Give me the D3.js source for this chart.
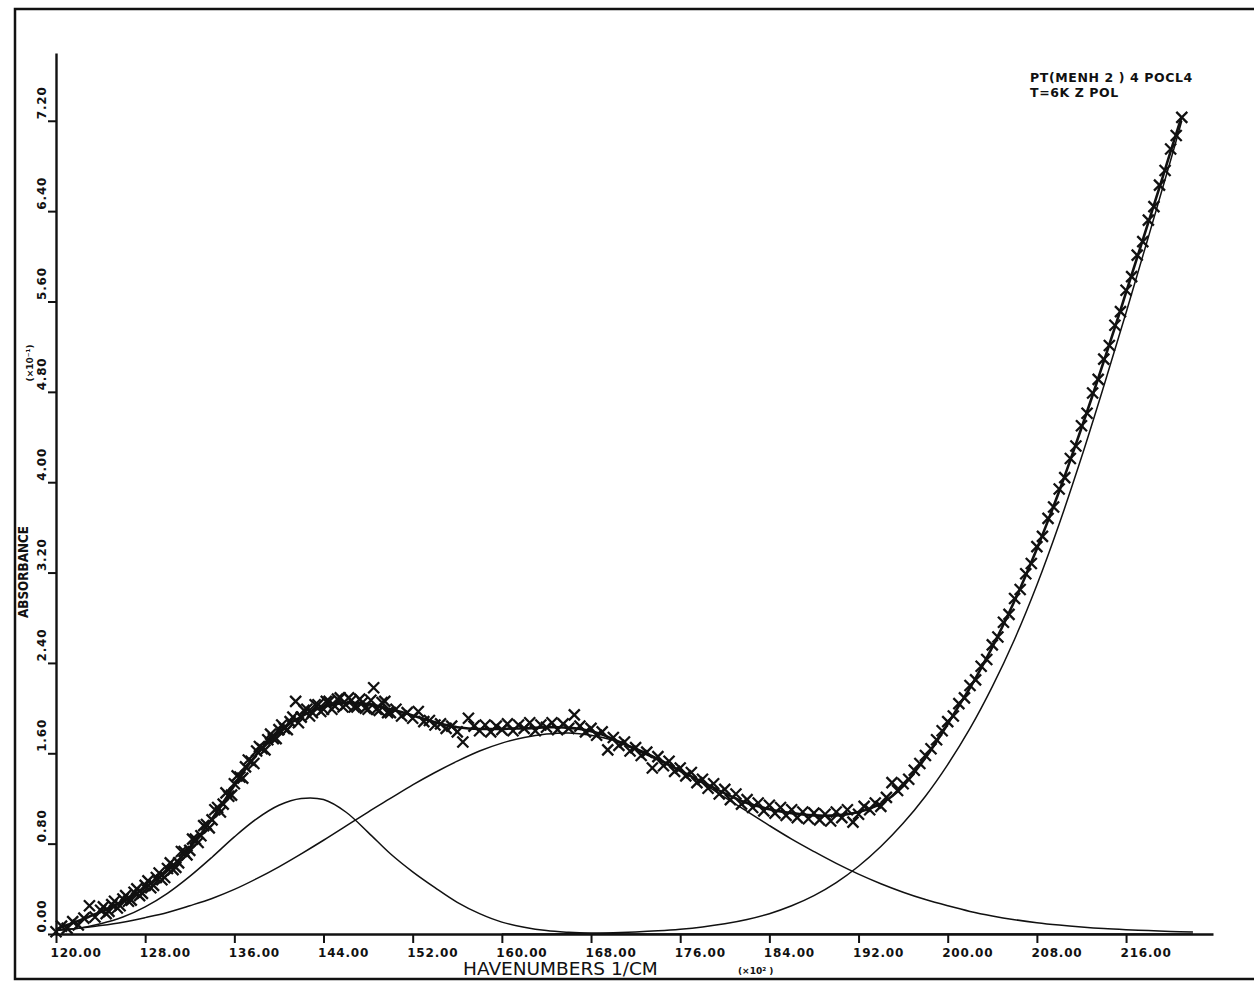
<!DOCTYPE html>
<html>
<head>
<meta charset="utf-8">
<script src="https://cdn.jsdelivr.net/npm/d3@7"></script>
<style>
  body { margin: 0; background: #fff; }
  svg { display: block; }
  text { fill: #111; }
</style>
</head>
<body>
<div id="my_dataviz"></div>
<script>
// axis ticks and their printed labels (absorbance in units of 10^-1, wavenumbers in 10^2 1/cm)
const xTicks = [120, 128, 136, 144, 152, 160, 168, 176, 184, 192, 200, 208, 216];
const xTickLabels = ["120.00", "128.00", "136.00", "144.00", "152.00", "160.00", "168.00",
                     "176.00", "184.00", "192.00", "200.00", "208.00", "216.00"];
const yTicks = [0, 0.8, 1.6, 2.4, 3.2, 4.0, 4.8, 5.6, 6.4, 7.2];
const yTickLabels = ["0.00", "0.80", "1.60", "2.40", "3.20", "4.00", "4.80", "5.60", "6.40", "7.20"];

// measured points (X markers)
const markerWavenumbers = [
  120, 120.5, 121, 121.5, 122, 122.5, 123, 123.5, 124, 124.5,
  125, 125.5, 126, 126.5, 127, 127.5, 128, 128.5, 129, 129.5,
  130, 130.5, 131, 131.5, 132, 132.5, 133, 133.5, 134, 134.5,
  135, 135.5, 136, 136.5, 137, 137.5, 138, 138.5, 139, 139.5,
  140, 140.5, 141, 141.5, 142, 142.5, 143, 143.5, 144, 144.5,
  145, 145.5, 146, 146.5, 147, 147.5, 148, 148.5, 149, 149.5,
  150, 150.5, 151, 151.5, 152, 152.5, 153, 153.5, 154, 154.5,
  155, 155.5, 156, 156.5, 157, 157.5, 158, 158.5, 159, 159.5,
  160, 160.5, 161, 161.5, 162, 162.5, 163, 163.5, 164, 164.5,
  165, 165.5, 166, 166.5, 167, 167.5, 168, 168.5, 169, 169.5,
  170, 170.5, 171, 171.5, 172, 172.5, 173, 173.5, 174, 174.5,
  175, 175.5, 176, 176.5, 177, 177.5, 178, 178.5, 179, 179.5,
  180, 180.5, 181, 181.5, 182, 182.5, 183, 183.5, 184, 184.5,
  185, 185.5, 186, 186.5, 187, 187.5, 188, 188.5, 189, 189.5,
  190, 190.5, 191, 191.5, 192, 192.5, 193, 193.5, 194, 194.5,
  195, 195.5, 196, 196.5, 197, 197.5, 198, 198.5, 199, 199.5,
  200, 200.5, 201, 201.5, 202, 202.5, 203, 203.5, 204, 204.5,
  205, 205.5, 206, 206.5, 207, 207.5, 208, 208.5, 209, 209.5,
  210, 210.5, 211, 211.5, 212, 212.5, 213, 213.5, 214, 214.5,
  215, 215.5, 216, 216.5, 217, 217.5, 218, 218.5, 219, 219.5,
  220, 220.5, 221
];
const markerAbsorbance = [
  0.02, 0.07, 0.05, 0.11, 0.08, 0.14, 0.25, 0.15, 0.21, 0.18,
  0.26, 0.23, 0.31, 0.29, 0.37, 0.34, 0.43, 0.41, 0.50, 0.48,
  0.58, 0.57, 0.63, 0.73, 0.74, 0.84, 0.87, 0.97, 1.01, 1.12,
  1.15, 1.22, 1.33, 1.39, 1.48, 1.53, 1.62, 1.64, 1.72, 1.73,
  1.81, 1.82, 1.88, 2.06, 1.92, 1.99, 1.96, 2.03, 1.99, 2.06,
  2.02, 2.09, 2.03, 2.07, 2.01, 2.05, 1.99, 2.18, 1.98, 2.06,
  1.96, 1.99, 1.93, 1.96, 1.91, 1.97, 1.88, 1.89, 1.85, 1.86,
  1.82, 1.84, 1.79, 1.70, 1.91, 1.84, 1.80, 1.85, 1.79, 1.84,
  1.81, 1.86, 1.80, 1.85, 1.82, 1.87, 1.80, 1.85, 1.83, 1.87,
  1.81, 1.86, 1.82, 1.94, 1.84, 1.79, 1.82, 1.76, 1.79, 1.63,
  1.74, 1.67, 1.70, 1.62, 1.65, 1.58, 1.61, 1.47, 1.57, 1.49,
  1.53, 1.44, 1.47, 1.40, 1.43, 1.34, 1.37, 1.29, 1.33, 1.24,
  1.28, 1.19, 1.24, 1.15, 1.19, 1.12, 1.16, 1.09, 1.14, 1.07,
  1.12, 1.05, 1.10, 1.03, 1.08, 1.02, 1.07, 1.01, 1.06, 1.00,
  1.08, 1.03, 1.10, 0.99, 1.06, 1.13, 1.10, 1.16, 1.13, 1.21,
  1.34, 1.27, 1.33, 1.37, 1.45, 1.51, 1.58, 1.64, 1.72, 1.80,
  1.88, 1.93, 2.04, 2.09, 2.20, 2.25, 2.37, 2.43, 2.56, 2.63,
  2.76, 2.83, 2.97, 3.05, 3.19, 3.28, 3.43, 3.52, 3.68, 3.78,
  3.94, 4.04, 4.21, 4.32, 4.50, 4.61, 4.79, 4.91, 5.09, 5.21,
  5.39, 5.51, 5.70, 5.82, 6.01, 6.13, 6.32, 6.44, 6.63, 6.76,
  6.95, 7.07, 7.23
];
// second, interleaved set of points on the rising edge and first peak
const markerWavenumbersB = [
  124.25, 124.75, 125.25, 125.75, 126.25, 126.75, 127.25, 127.75, 128.25, 128.75,
  129.25, 129.75, 130.25, 130.75, 131.25, 131.75, 132.25, 132.75, 133.25, 133.75,
  134.25, 134.75, 135.25, 135.75, 136.25, 136.75, 137.25, 137.75, 138.25, 138.75,
  139.25, 139.75, 140.25, 140.75, 141.25, 141.75, 142.25, 142.75, 143.25, 143.75,
  144.25, 144.75, 145.25, 145.75, 146.25, 146.75, 147.25, 147.75, 148.25, 148.75,
  149.25, 149.75
];
const markerAbsorbanceB = [
  0.24, 0.20, 0.29, 0.25, 0.34, 0.30, 0.40, 0.36, 0.47, 0.43,
  0.54, 0.50, 0.63, 0.59, 0.73, 0.70, 0.84, 0.81, 0.96, 0.94,
  1.10, 1.08, 1.25, 1.23, 1.40, 1.38, 1.54, 1.51, 1.66, 1.63,
  1.77, 1.73, 1.85, 1.81, 1.92, 1.87, 1.98, 1.93, 2.03, 1.97,
  2.06, 1.99, 2.08, 2.01, 2.09, 2.01, 2.08, 2.00, 2.07, 1.99,
  2.05, 1.96
];

// total fitted curve (thick line)
const fitWavenumbers = [
  120, 121, 122, 123, 124, 125, 126, 127, 128, 129,
  130, 131, 132, 133, 134, 135, 136, 137, 138, 139,
  140, 141, 142, 143, 144, 145, 146, 147, 148, 149,
  150, 151, 152, 153, 154, 155, 156, 157, 158, 159,
  160, 161, 162, 163, 164, 165, 166, 167, 168, 169,
  170, 171, 172, 173, 174, 175, 176, 177, 178, 179,
  180, 181, 182, 183, 184, 185, 186, 187, 188, 189,
  190, 191, 192, 193, 194, 195, 196, 197, 198, 199,
  200, 201, 202, 203, 204, 205, 206, 207, 208, 209,
  210, 211, 212, 213, 214, 215, 216, 217, 218, 219,
  220, 221
];
const fitAbsorbance = [
  0.04, 0.08, 0.115, 0.155, 0.195, 0.24, 0.29, 0.345, 0.41, 0.48,
  0.56, 0.655, 0.765, 0.885, 1.02, 1.165, 1.315, 1.46, 1.59, 1.70,
  1.79, 1.865, 1.925, 1.975, 2.01, 2.035, 2.045, 2.045, 2.035, 2.015,
  1.99, 1.965, 1.935, 1.905, 1.875, 1.85, 1.83, 1.82, 1.815, 1.815,
  1.815, 1.82, 1.82, 1.825, 1.83, 1.83, 1.825, 1.815, 1.795, 1.765,
  1.725, 1.68, 1.635, 1.59, 1.545, 1.495, 1.445, 1.395, 1.345, 1.295,
  1.245, 1.20, 1.16, 1.13, 1.105, 1.085, 1.07, 1.058, 1.05, 1.047,
  1.05, 1.06, 1.08, 1.11, 1.155, 1.22, 1.31, 1.43, 1.56, 1.705,
  1.86, 2.02, 2.18, 2.355, 2.54, 2.74, 2.95, 3.175, 3.41, 3.66,
  3.92, 4.195, 4.48, 4.77, 5.07, 5.37, 5.68, 5.99, 6.30, 6.61,
  6.93, 7.24
];

// component bands (thin lines)
const bandWavenumbers = [
  120, 122, 124, 126, 128, 130, 132, 134, 136, 138,
  140, 142, 144, 146, 148, 150, 152, 154, 156, 158,
  160, 162, 164, 166, 168, 170, 172, 174, 176, 178,
  180, 182, 184, 186, 188, 190, 192, 194, 196, 198,
  200, 202, 204, 206, 208, 210, 212, 214, 216, 218,
  220, 222
];
const band1 = [
  0.03, 0.05, 0.09, 0.15, 0.24, 0.36, 0.51, 0.68, 0.86, 1.02,
  1.14, 1.20, 1.19, 1.08, 0.90, 0.71, 0.55, 0.41, 0.28, 0.18,
  0.105, 0.06, 0.03, 0.015, 0.006, 0.002, 0, 0, 0, 0,
  0, 0, 0, 0, 0, 0, 0, 0, 0, 0,
  0, 0, 0, 0, 0, 0, 0, 0, 0, 0,
  0, 0
];
const band2 = [
  0.035, 0.05, 0.075, 0.105, 0.145, 0.19, 0.25, 0.315, 0.395, 0.49,
  0.595, 0.71, 0.83, 0.955, 1.08, 1.20, 1.32, 1.43, 1.53, 1.62,
  1.69, 1.74, 1.77, 1.78, 1.76, 1.715, 1.645, 1.555, 1.45, 1.335,
  1.21, 1.085, 0.96, 0.84, 0.73, 0.625, 0.53, 0.445, 0.37, 0.305,
  0.25, 0.20, 0.16, 0.127, 0.10, 0.079, 0.062, 0.048, 0.038, 0.03,
  0.023, 0.018
];
const band3Wavenumbers = [
  160, 162, 164, 166, 168, 170, 172, 174, 176, 178,
  180, 182, 184, 186, 188, 190, 192, 194, 196, 198,
  200, 202, 204, 206, 208, 210, 212, 214, 216, 218,
  220, 221
];
const band3 = [
  0, 0, 0.001, 0.003, 0.006, 0.011, 0.018, 0.028, 0.042, 0.062,
  0.09, 0.128, 0.18, 0.25, 0.34, 0.455, 0.60, 0.775, 0.98, 1.22,
  1.50, 1.82, 2.19, 2.61, 3.09, 3.63, 4.22, 4.85, 5.50, 6.17,
  6.85, 7.20
];

const noteLines = ["PT(MENH 2 ) 4 POCL4", "T=6K Z POL"];

// page size
const W = 1254, H = 981;

const svg = d3.select("#my_dataviz")
  .append("svg")
    .attr("width", W)
    .attr("height", H);

// scales
const x = d3.scaleLinear().domain([120, 223.8]).range([56, 1213]);
const y = d3.scaleLinear().domain([0, 7.8]).range([934, 53]);

// scanned page frame
svg.append("path")
  .attr("d", `M${W},9H15V979H${W}`)
  .attr("fill", "none")
  .attr("stroke", "#111")
  .attr("stroke-width", 2.5);

// X axis
const xAxis = svg.append("g")
  .attr("transform", `translate(0,${y(0)})`)
  .call(d3.axisBottom(x)
    .tickValues(xTicks)
    .tickSize(9)
    .tickSizeOuter(0)
    .tickFormat((d, i) => xTickLabels[i]));

xAxis.select(".domain").attr("stroke", "#111").attr("stroke-width", 2.4);
xAxis.selectAll(".tick line").attr("stroke", "#111").attr("stroke-width", 2);
xAxis.selectAll(".tick text")
  .attr("text-anchor", "start")
  .attr("x", -6)
  .attr("y", 23)
  .attr("dy", null)
  .style("font-family", "DejaVu Sans")
  .style("font-weight", "bold")
  .style("font-size", "12px")
  .style("letter-spacing", "0.8px")
  .attr("fill", "#111");

// Y axis
const yAxis = svg.append("g")
  .attr("transform", `translate(${x(120)},0)`)
  .call(d3.axisLeft(y)
    .tickValues(yTicks)
    .tickSize(8)
    .tickSizeOuter(0)
    .tickFormat((d, i) => yTickLabels[i]));

yAxis.select(".domain").attr("stroke", "#111").attr("stroke-width", 2.4);
yAxis.selectAll(".tick line").attr("stroke", "#111").attr("stroke-width", 2);
yAxis.selectAll(".tick text")
  .attr("x", 0)
  .attr("dy", null)
  .attr("transform", "translate(-10,-2) rotate(-90)")
  .attr("text-anchor", "start")
  .style("font-family", "DejaVu Sans")
  .style("font-weight", "bold")
  .style("font-size", "12px")
  .style("letter-spacing", "0.8px")
  .attr("fill", "#111");

// axis titles
svg.append("text")
  .attr("transform", "translate(28,572) rotate(-90)")
  .attr("text-anchor", "middle")
  .attr("textLength", 92)
  .attr("lengthAdjust", "spacingAndGlyphs")
  .style("font-family", "DejaVu Sans")
  .style("font-weight", "bold")
  .style("font-size", "13.5px")
  .text("ABSORBANCE");

svg.append("text")
  .attr("transform", "translate(33,363) rotate(-90)")
  .attr("text-anchor", "middle")
  .style("font-family", "DejaVu Sans")
  .style("font-weight", "bold")
  .style("font-size", "9px")
  .text("(\u00d710\u207b\u00b9)");

svg.append("text")
  .attr("x", 463)
  .attr("y", 975)
  .style("font-family", "DejaVu Sans")
  .style("font-size", "18.5px")
  .text("HAVENUMBERS 1/CM");

svg.append("text")
  .attr("x", 738)
  .attr("y", 974)
  .style("font-family", "DejaVu Sans")
  .style("font-weight", "bold")
  .style("font-size", "9px")
  .text("(\u00d710\u00b2 )");

// annotation, top right
svg.append("g").selectAll("text")
  .data(noteLines)
  .join("text")
    .attr("x", 1030)
    .attr("y", (d, i) => 82 + i * 15)
    .style("font-family", "DejaVu Sans")
    .style("font-weight", "bold")
    .style("font-size", "12.5px")
    .style("letter-spacing", "0.6px")
    .text(d => d);

// line generator
const lineGen = d3.line()
  .x(d => x(d[0]))
  .y(d => y(d[1]))
  .curve(d3.curveCatmullRom.alpha(0.5));

const comps = [
  bandWavenumbers.map((v, i) => [v, band1[i]]),
  bandWavenumbers.map((v, i) => [v, band2[i]]),
  band3Wavenumbers.map((v, i) => [v, band3[i]])
];

svg.append("g").selectAll("path")
  .data(comps)
  .join("path")
    .attr("d", lineGen)
    .attr("fill", "none")
    .attr("stroke", "#111")
    .attr("stroke-width", 1.5);

// total fit
svg.append("path")
  .datum(fitWavenumbers.map((v, i) => [v, fitAbsorbance[i]]))
  .attr("d", lineGen)
  .attr("fill", "none")
  .attr("stroke", "#111")
  .attr("stroke-width", 2.6);

// data markers
const markers = markerWavenumbers.map((v, i) => ({wn: v, a: markerAbsorbance[i]}))
  .concat(markerWavenumbersB.map((v, i) => ({wn: v, a: markerAbsorbanceB[i]})));

svg.append("g").selectAll("path")
  .data(markers)
  .join("path")
    .attr("transform", d => `translate(${x(d.wn)},${y(d.a)})`)
    .attr("d", "M-5.5,-5.5L5.5,5.5M-5.5,5.5L5.5,-5.5")
    .attr("fill", "none")
    .attr("stroke", "#111")
    .attr("stroke-width", 2.3);
</script>
</body>
</html>
